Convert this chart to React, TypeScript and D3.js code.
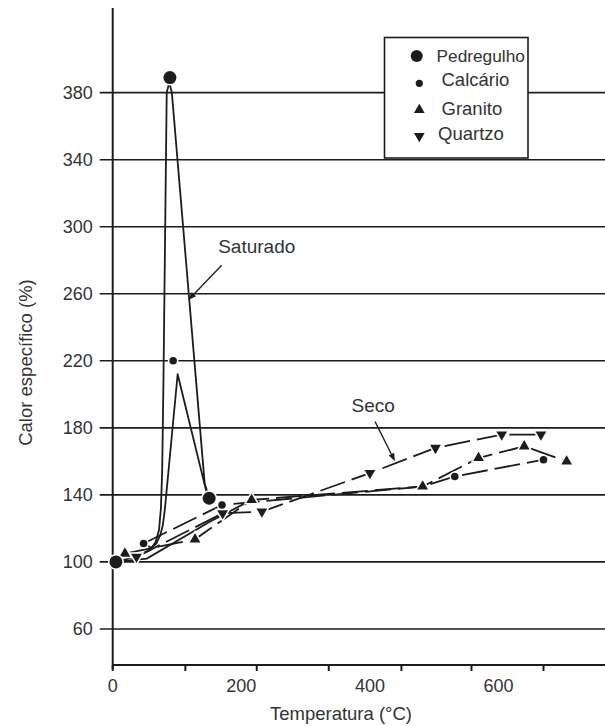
import React from "react";
import * as d3 from "d3";

// ---- data ----
const yTicks = [60, 100, 140, 180, 220, 260, 300, 340, 380];
const xTickLabels = [0, 200, 400, 600];
const xTickMarks = [0, 113, 224, 336, 449, 558, 670];

// Saturated curves (solid)
const satPedregulhoLine: [number, number][] = [
  [5, 100], [35, 103], [58, 107], [67, 112], [72, 119], [75, 132], [77, 155], [79, 210], [84, 380], [88, 386], [92, 380], [143, 147], [150, 138],
];
const satCalcarioLine: [number, number][] = [
  [48, 111], [60, 108.5], [68, 111], [74, 116], [78, 122], [81, 131], [101, 212], [145, 143], [150, 139],
];

// Dry curves (dashed)
const dryQuartzo: [number, number][] = [
  [37, 103], [171, 129], [232, 130], [400, 153], [502, 168], [605, 176], [666, 176],
];
const dryGranito: [number, number][] = [
  [19, 105], [128, 113.5], [216, 137], [482, 145], [569, 162], [640, 169], [706, 160],
];
const dryCalcario: [number, number][] = [
  [48, 111], [170, 134], [482, 145], [532, 151], [670, 161],
];
const dryPedregulho: [number, number][] = [
  [5, 100], [53, 102], [151, 124], [216, 137],
];

// Markers
const pedregulhoPts: [number, number][] = [[5, 100], [89, 389], [150, 138]];
const calcarioPts: [number, number][] = [[48, 111], [94, 220], [170, 134], [532, 151], [670, 161]];
const granitoPts: [number, number][] = [[19, 105], [128, 113.5], [216, 137], [482, 145], [569, 162], [640, 169], [706, 160]];
const quartzoPts: [number, number][] = [[37, 103], [171, 129], [232, 130], [400, 153], [502, 168], [605, 176], [666, 176]];

const legendItems = ["Pedregulho", "Calcário", "Granito", "Quartzo"];

// annotations: label position, leader start, leader end (data units)
const annSaturado = { text: "Saturado", at: [224, 288], from: [169.5, 277], to: [117.6, 256.3] };
const annSeco = { text: "Seco", at: [405, 193.6], from: [408, 183.7], to: [439, 160] };

const W = 605;
const H = 726;
const FONT = "'Liberation Sans', Arial, sans-serif";
const INK = "#1c1c1c";
const TXT = "#333";

export default function App() {
  const x = d3.scaleLinear().domain([0, 765]).range([112.7, 604.6]);
  const y = d3.scaleLinear().domain([38.5, 430.5]).range([665, 8]);

  const straight = d3
    .line<[number, number]>()
    .x((d) => x(d[0]))
    .y((d) => y(d[1]));

  const tri = d3.symbol().type(d3.symbolTriangle).size(50)() as string;

  const x0 = x(0);
  const yBottom = y(38.5);
  const yTop = y(430.5);

  const markerProps = {
    fill: INK,
    stroke: "#fff",
    strokeWidth: 3,
    paintOrder: "stroke" as const,
  };

  const arrow = (a: { from: number[]; to: number[] }) => {
    const x1 = x(a.from[0]);
    const y1 = y(a.from[1]);
    const x2 = x(a.to[0]);
    const y2 = y(a.to[1]);
    const ang = Math.atan2(y2 - y1, x2 - x1);
    const L = 8;
    const wdt = 3;
    const bx = x2 - L * Math.cos(ang);
    const by = y2 - L * Math.sin(ang);
    const p1 = [bx + wdt * Math.sin(ang), by - wdt * Math.cos(ang)];
    const p2 = [bx - wdt * Math.sin(ang), by + wdt * Math.cos(ang)];
    return (
      <g>
        <line x1={x1} y1={y1} x2={bx} y2={by} stroke={INK} strokeWidth={1.3} />
        <path d={`M${x2},${y2}L${p1[0]},${p1[1]}L${p2[0]},${p2[1]}Z`} fill={INK} />
      </g>
    );
  };

  const legendRows = [
    { cy: 56, mx: 416.7, tx: 436.5, ty: 56 },
    { cy: 83.3, mx: 419.3, tx: 441.5, ty: 79.5 },
    { cy: 110, mx: 419.3, tx: 441.5, ty: 108.5 },
    { cy: 136, mx: 419.3, tx: 438, ty: 134 },
  ];

  return (
    <svg
      width={W}
      height={H}
      style={{ position: "absolute", left: 0, top: 0, background: "#fff" }}
      fontFamily={FONT}
    >
      <rect width={W} height={H} fill="#fff" />
      {/* gridlines + y ticks */}
      {yTicks.map((t) => (
        <g key={t}>
          <line x1={x0 - 13} x2={W} y1={y(t)} y2={y(t)} stroke={INK} strokeWidth={1.6} />
          <text x={92.7} y={y(t)} dy="0.35em" textAnchor="end" fontSize={18} fill={TXT}>
            {t}
          </text>
        </g>
      ))}

      {/* axes */}
      <line x1={x0} x2={x0} y1={yTop} y2={yBottom + 4} stroke={INK} strokeWidth={2} />
      <line x1={x0} x2={W} y1={yBottom} y2={yBottom} stroke={INK} strokeWidth={2} />
      {xTickMarks.map((t) => (
        <line key={t} x1={x(t)} x2={x(t)} y1={yBottom} y2={yBottom + 6} stroke={INK} strokeWidth={2} />
      ))}
      {xTickLabels.map((t) => (
        <text key={t} x={x(t)} y={691.5} textAnchor="middle" fontSize={18} fill={TXT}>
          {t}
        </text>
      ))}

      {/* axis titles */}
      <text x={341} y={720} textAnchor="middle" fontSize={18.5} fill={TXT}>
        Temperatura (°C)
      </text>
      <text
        transform={`translate(32,${362.5}) rotate(-90)`}
        textAnchor="middle"
        fontSize={18.5}
        fill={TXT}
      >
        Calor específico (%)
      </text>

      {/* saturated curves */}
      <path d={straight(satPedregulhoLine) ?? ""} fill="none" stroke={INK} strokeWidth={1.8} strokeLinejoin="round" />
      <path d={straight(satCalcarioLine) ?? ""} fill="none" stroke={INK} strokeWidth={1.8} strokeLinejoin="round" />

      {/* dry curves */}
      {[dryPedregulho, dryGranito, dryQuartzo, dryCalcario].map((s, i) => (
        <path
          key={i}
          d={straight(s) ?? ""}
          fill="none"
          stroke={INK}
          strokeWidth={1.8}
          strokeDasharray={i === 0 ? "none" : "26 7"}
        />
      ))}

      {/* markers */}
      {granitoPts.map((p, i) => (
        <path key={"g" + i} d={tri} transform={`translate(${x(p[0])},${y(p[1])})`} {...markerProps} />
      ))}
      {quartzoPts.map((p, i) => (
        <path
          key={"q" + i}
          d={tri}
          transform={`translate(${x(p[0])},${y(p[1])}) rotate(180)`}
          {...markerProps}
        />
      ))}
      {calcarioPts.map((p, i) => (
        <circle key={"c" + i} cx={x(p[0])} cy={y(p[1])} r={3.8} {...markerProps} />
      ))}
      {pedregulhoPts.map((p, i) => (
        <circle key={"p" + i} cx={x(p[0])} cy={y(p[1])} r={6.5} {...markerProps} />
      ))}

      {/* annotations */}
      <text x={x(annSaturado.at[0])} y={y(annSaturado.at[1])} dy="0.35em" textAnchor="middle" fontSize={19} fill={TXT}>
        {annSaturado.text}
      </text>
      {arrow(annSaturado)}
      <text x={x(annSeco.at[0])} y={y(annSeco.at[1])} dy="0.35em" textAnchor="middle" fontSize={19} fill={TXT}>
        {annSeco.text}
      </text>
      {arrow(annSeco)}

      {/* legend */}
      <g>
        <rect x={384.5} y={37.5} width={143.5} height={120.5} fill="#fff" stroke={INK} strokeWidth={1.6} />
        {legendItems.map((name, i) => {
          const r = legendRows[i];
          let mark;
          if (i === 0) mark = <circle cx={r.mx} cy={r.cy} r={6} fill={INK} />;
          else if (i === 1) mark = <circle cx={r.mx} cy={r.cy} r={3.6} fill={INK} />;
          else if (i === 2) mark = <path d={tri} transform={`translate(${r.mx},${r.cy})`} fill={INK} />;
          else mark = <path d={tri} transform={`translate(${r.mx},${r.cy}) rotate(180)`} fill={INK} />;
          return (
            <g key={name}>
              {mark}
              <text x={r.tx} y={r.ty} dy="0.35em" fontSize={i === 0 ? 17.3 : 18.5} fill={TXT}>
                {name}
              </text>
            </g>
          );
        })}
      </g>
    </svg>
  );
}
